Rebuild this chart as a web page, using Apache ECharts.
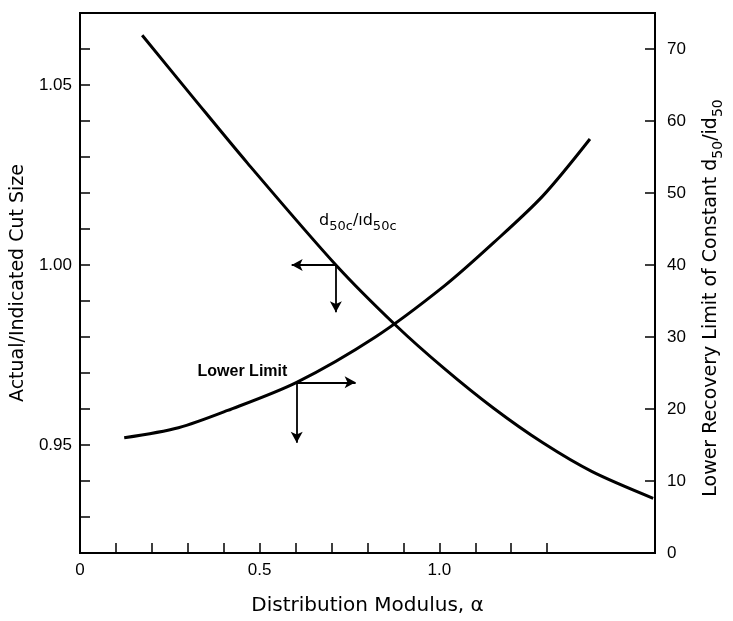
<!DOCTYPE html>
<html>
<head>
<meta charset="utf-8">
<script src="https://cdn.jsdelivr.net/npm/echarts@6/dist/echarts.min.js"></script>
<style>
  html, body { margin: 0; padding: 0; background: #fff; }
  #chart { width: 733px; height: 621px; }
</style>
</head>
<body>
<div id="chart"></div>
<script>
// Actual/indicated cut size ratio d50c/id50c versus distribution modulus (left axis)
const cutSizeAlpha = [0.173, 0.315, 0.466, 0.712, 0.877, 1.014, 1.151, 1.288, 1.425, 1.595];
const cutSizeRatio = [1.0638, 1.0465, 1.0283, 1.0000, 0.9834, 0.9712, 0.9602, 0.9506, 0.9426, 0.9352];

// Lower recovery limit of constant d50/id50 versus distribution modulus (right axis)
const lowerLimitAlpha = [0.123, 0.274, 0.411, 0.603, 0.822, 1.014, 1.151, 1.288, 1.419];
const lowerLimitValue = [16.0, 17.4, 19.8, 23.7, 30.0, 37.1, 43.1, 49.6, 57.5];

// Axis ticks and labels
const xTicks = [0, 0.1, 0.2, 0.3, 0.4, 0.5, 0.6, 0.7, 0.8, 0.9, 1.0, 1.1, 1.2, 1.3];
const xLabelValues = [0, 0.5, 1.0];
const xTickLabels = ['0', '0.5', '1.0'];
const leftTicks = [0.93, 0.94, 0.95, 0.96, 0.97, 0.98, 0.99, 1.00, 1.01, 1.02, 1.03, 1.04, 1.05, 1.06];
const leftLabelValues = [0.95, 1.00, 1.05];
const leftTickLabels = ['0.95', '1.00', '1.05'];
const rightTicks = [0, 10, 20, 30, 40, 50, 60, 70];
const rightTickLabels = ['0', '10', '20', '30', '40', '50', '60', '70'];

// Reading arrows: where each curve points to its own axis
const cutSizeArrow = { alpha: 0.712, ratio: 1.000, leftTo: 0.589, downTo: 0.9869 };
const lowerLimitArrow = { alpha: 0.603, value: 23.7, rightTo: 0.767, downTo: 15.3 };

// Curve captions
const cutSizeCaptionAt = [0.773, 1.0117];
const lowerLimitCaptionAt = [0.452, 25.2];

const pair = (xs, ys) => xs.map((x, i) => [x, ys[i]]);
const labelFor = (values, labels) => (v) => {
  const i = values.findIndex(t => Math.abs(t - v) < 1e-9);
  return i >= 0 ? labels[i] : '';
};

const tickFont = 'Liberation Sans, Arial, sans-serif';
const titleFont = 'DejaVu Sans, sans-serif';
const ink = '#000';

const axisCommon = {
  splitLine: { show: false },
  axisLine: { show: true, lineStyle: { color: ink, width: 2 } },
  axisTick: { show: true, inside: true, length: 10, lineStyle: { color: ink, width: 1.5 } },
  nameLocation: 'middle',
  nameTextStyle: { color: ink, fontFamily: titleFont, fontSize: 19 }
};

const chart = echarts.init(document.getElementById('chart'), null, { renderer: 'canvas' });

chart.setOption({
  animation: false,
  backgroundColor: '#fff',
  grid: {
    left: 80, right: 71, top: 13, bottom: 63,
    show: true, borderColor: ink, borderWidth: 2, backgroundColor: 'transparent'
  },
  xAxis: Object.assign({}, axisCommon, {
    type: 'value',
    min: 0, max: 1.6,
    name: 'Distribution Modulus, α',
    nameGap: 43,
    nameTextStyle: { color: ink, fontFamily: titleFont, fontSize: 20 },
    axisTick: Object.assign({}, axisCommon.axisTick, { customValues: xTicks }),
    axisLabel: {
      customValues: xLabelValues,
      formatter: labelFor(xLabelValues, xTickLabels),
      color: ink, fontFamily: tickFont, fontSize: 17, margin: 9
    }
  }),
  yAxis: [
    Object.assign({}, axisCommon, {
      type: 'value',
      position: 'left',
      min: 0.92, max: 1.07,
      name: 'Actual/Indicated Cut Size',
      nameRotate: 90,
      nameGap: 52,
      axisTick: Object.assign({}, axisCommon.axisTick, { customValues: leftTicks }),
      axisLabel: {
        customValues: leftLabelValues,
        formatter: labelFor(leftLabelValues, leftTickLabels),
        color: ink, fontFamily: tickFont, fontSize: 17, margin: 8
      }
    }),
    Object.assign({}, axisCommon, {
      type: 'value',
      position: 'right',
      min: 0, max: 75,
      name: '{t|Lower Recovery Limit of Constant d}{s|50}{t|/id}{s|50}',
      nameRotate: 90,
      nameGap: 46,
      nameTextStyle: {
        color: ink, fontFamily: titleFont, fontSize: 19,
        padding: [0, 30, 0, 0],
        rich: {
          t: { fontFamily: titleFont, fontSize: 19, color: ink, lineHeight: 24, verticalAlign: 'bottom', padding: [0, 0, 4, 0] },
          s: { fontFamily: titleFont, fontSize: 14, color: ink, lineHeight: 24, verticalAlign: 'bottom' }
        }
      },
      axisTick: Object.assign({}, axisCommon.axisTick, { customValues: rightTicks }),
      axisLabel: {
        customValues: rightTicks,
        formatter: labelFor(rightTicks, rightTickLabels),
        color: ink, fontFamily: tickFont, fontSize: 17, margin: 12
      }
    })
  ],
  series: [
    {
      name: 'd50c/id50c',
      type: 'line',
      yAxisIndex: 0,
      data: pair(cutSizeAlpha, cutSizeRatio),
      smooth: 0.3,
      showSymbol: false,
      lineStyle: { color: ink, width: 3 },
      markLine: {
        silent: true,
        symbol: ['none', 'arrow'],
        symbolSize: [9, 11],
        label: { show: false },
        lineStyle: { color: ink, width: 1.8, type: 'solid' },
        data: [
          [{ coord: [cutSizeArrow.alpha, cutSizeArrow.ratio] }, { coord: [cutSizeArrow.leftTo, cutSizeArrow.ratio] }],
          [{ coord: [cutSizeArrow.alpha, cutSizeArrow.ratio] }, { coord: [cutSizeArrow.alpha, cutSizeArrow.downTo] }]
        ]
      },
      markPoint: {
        silent: true,
        symbol: 'circle',
        symbolSize: 0,
        data: [{
          coord: cutSizeCaptionAt,
          label: {
            show: true,
            position: 'inside',
            formatter: '{t|d}{s|50c}{t|/ıd}{s|50c}',
            rich: {
              t: { fontFamily: titleFont, fontSize: 16, color: ink, lineHeight: 20, verticalAlign: 'bottom', padding: [0, 0, 4, 0] },
              s: { fontFamily: titleFont, fontSize: 13, color: ink, lineHeight: 20, verticalAlign: 'bottom' }
            }
          }
        }]
      }
    },
    {
      name: 'Lower Limit',
      type: 'line',
      yAxisIndex: 1,
      data: pair(lowerLimitAlpha, lowerLimitValue),
      smooth: 0.3,
      showSymbol: false,
      lineStyle: { color: ink, width: 3 },
      markLine: {
        silent: true,
        symbol: ['none', 'arrow'],
        symbolSize: [9, 11],
        label: { show: false },
        lineStyle: { color: ink, width: 1.8, type: 'solid' },
        data: [
          [{ coord: [lowerLimitArrow.alpha, lowerLimitArrow.value] }, { coord: [lowerLimitArrow.rightTo, lowerLimitArrow.value] }],
          [{ coord: [lowerLimitArrow.alpha, lowerLimitArrow.value] }, { coord: [lowerLimitArrow.alpha, lowerLimitArrow.downTo] }]
        ]
      },
      markPoint: {
        silent: true,
        symbol: 'circle',
        symbolSize: 0,
        data: [{
          coord: lowerLimitCaptionAt,
          label: {
            show: true,
            position: 'inside',
            formatter: 'Lower Limit',
            fontFamily: tickFont, fontSize: 16, fontWeight: 'bold', color: ink
          }
        }]
      }
    }
  ]
});
</script>
</body>
</html>
